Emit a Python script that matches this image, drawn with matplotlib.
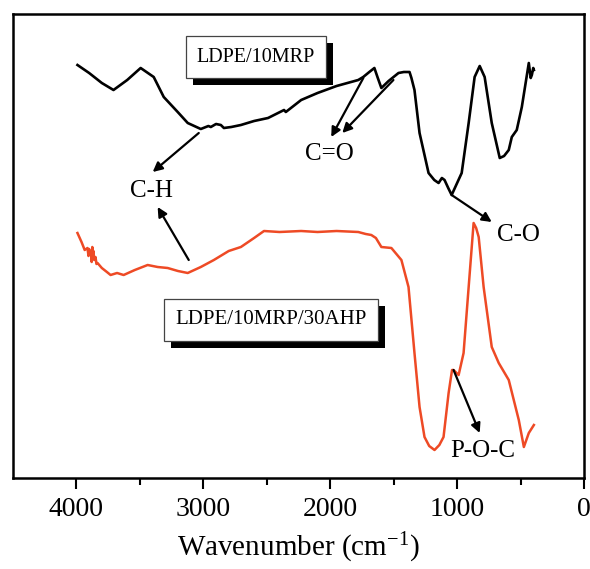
import matplotlib
matplotlib.use("Agg")
import matplotlib.pyplot as plt
import matplotlib.patheffects as pe
import numpy as np

plt.rcParams['font.family'] = ['Liberation Serif', 'DejaVu Serif']
plt.rcParams['mathtext.fontset'] = 'custom'
plt.rcParams['mathtext.rm'] = 'Liberation Serif'
plt.rcParams['mathtext.it'] = 'Liberation Serif:italic'
plt.rcParams['axes.unicode_minus'] = False

# Black spectrum: LDPE/10MRP (wavenumber, transmittance a.u.)
wn_black = [3992, 3900, 3800, 3708, 3600, 3494, 3391, 3312, 3202, 3123, 3020, 2960, 2941,
            2900, 2862, 2838, 2780, 2704, 2600, 2490, 2364, 2350, 2229, 2100, 1950, 1779,
            1740, 1692, 1652, 1625, 1597, 1540, 1462, 1420, 1375, 1360, 1336, 1296, 1225,
            1180, 1146, 1120, 1099, 1070, 1043, 1000, 964, 909, 862, 822, 783, 727,
            664, 630, 593, 569, 530, 490, 435, 420, 411, 400, 395]
tr_black = [413, 405, 395, 388, 398, 410, 401, 381, 366, 355, 349, 352, 351,
            354, 353, 350, 351, 353, 357, 360, 368, 366, 378, 385, 392, 398,
            401, 406, 410, 400, 390, 397, 405, 406, 406, 400, 388, 345, 305,
            298, 295, 300, 298, 290, 283, 295, 305, 355, 401, 412, 401, 355,
            320, 322, 328, 341, 348, 371, 415, 400, 403, 410, 408]

# Red spectrum: LDPE/10MRP/30AHP
wn_red = [3992, 3960, 3935, 3913, 3905, 3900, 3892, 3885, 3880, 3875, 3870, 3866, 3860,
          3850, 3842, 3834, 3800, 3760, 3731,
          3680, 3628, 3540, 3439, 3360, 3281, 3200, 3123, 3020, 2917, 2800, 2704, 2600,
          2522, 2400, 2229, 2100, 1950, 1779, 1720, 1676, 1640, 1597, 1518, 1439, 1383,
          1336, 1296, 1257, 1220, 1178, 1140, 1107, 1067, 1040, 1028, 988, 949, 909, 870,
          850, 830, 791, 727, 672, 593, 514, 474, 435, 395]
tr_red = [245, 236, 228, 230, 222, 229, 224, 226, 216, 231, 220, 227, 218,
          221, 214, 215, 210, 206, 203,
          205, 203, 208, 213, 211, 210, 207, 205, 211, 218, 227, 231, 240,
          247, 246, 247, 246, 247, 246, 244, 243, 240, 231, 230, 218, 191,
          125, 71, 41, 32, 28, 33, 41, 85, 108, 108, 103, 125, 191, 255,
          250, 241, 191, 131, 115, 98, 58, 31, 45, 53]

xticks = [4000, 3000, 2000, 1000, 0]
xlabel = r'Wavenumber (cm$^{\mathrm{-1}}$)'

fig = plt.figure(figsize=(5.9, 5.69), dpi=100)
ax = fig.add_axes([13/590, 91/569, 571/590, 464/569])

red = '#ee4a25'
ax.plot(wn_black, tr_black, color='black', lw=1.9, zorder=2)
ax.plot(wn_red, tr_red, color=red, lw=1.8, zorder=2)

ax.set_xlim(4500, 0)
ax.set_ylim(0, 464)
ax.set_xticks(xticks)
ax.set_xticks([3500, 2500, 1500, 500], minor=True)
ax.set_yticks([])
ax.tick_params(axis='x', which='major', direction='out', length=8, width=1.5,
               labelsize=20, pad=6)
ax.tick_params(axis='x', which='minor', direction='out', length=5, width=1.5)
for s in ax.spines.values():
    s.set_linewidth(1.8)
ax.set_xlabel(xlabel, fontsize=21, labelpad=6)

# boxed labels with shadow
def boxed(x, y, txt, fs):
    t = ax.text(x, y, txt, fontsize=fs, ha='center', va='center', color='black', zorder=5,
                bbox=dict(boxstyle='square,pad=0.55', fc='white', ec='#444444', lw=0.9))
    t.get_bbox_patch().set_path_effects([
        pe.SimplePatchShadow(offset=(5, -5), shadow_rgbFace='black', alpha=1.0),
        pe.Normal()])

boxed(2585, 421, 'LDPE/10MRP', 14.5)
boxed(2466, 158, 'LDPE/10MRP/30AHP', 15)

ap = dict(arrowstyle='-|>', color='black', lw=1.6, mutation_scale=14,
          shrinkA=0, shrinkB=0)

def arrow(x0, y0, x1, y1):
    ax.annotate('', xy=(x1, y1), xytext=(x0, y0), arrowprops=ap, zorder=3)

tfs = 18
ax.text(3407, 287, 'C-H', fontsize=tfs, ha='center', va='center')
arrow(3036, 345, 3399, 306)
arrow(3115, 218, 3360, 271)

ax.text(2008, 324, 'C=O', fontsize=tfs, ha='center', va='center')
arrow(1739, 400, 1992, 341)
arrow(1502, 398, 1905, 345)

ax.text(514, 243, 'C-O', fontsize=tfs, ha='center', va='center')
arrow(1043, 283, 727, 256)

ax.text(798, 27, 'P-O-C', fontsize=tfs, ha='center', va='center')
arrow(1028, 108, 822, 45)

fig.savefig('out.png', dpi=100)
